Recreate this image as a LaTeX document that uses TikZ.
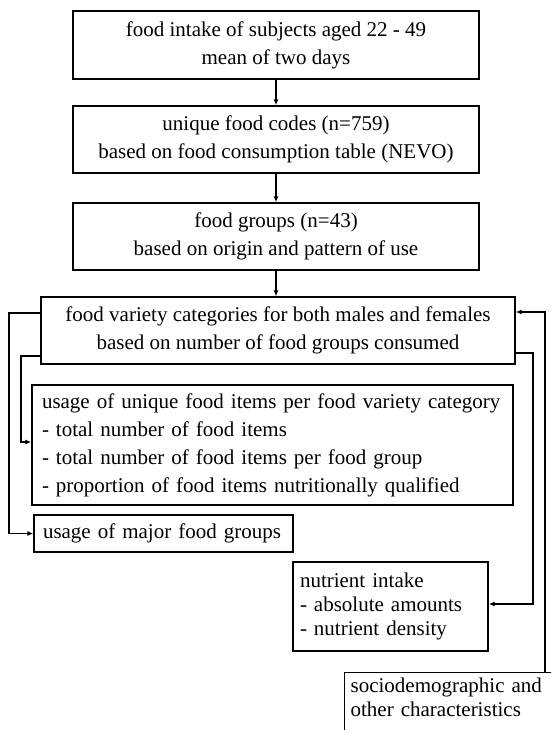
\documentclass[tikz,border=0pt]{standalone}
\usepackage{fontspec}
\setmainfont{Liberation Serif}
\usetikzlibrary{arrows.meta}
\begin{document}
\begin{tikzpicture}[x=1pt,y=-1pt,
  line width=1.3pt,
  box/.style={draw, line width=1.3pt, align=center, inner sep=0pt,
    font=\fontsize{21}{28}\selectfont},
  listbox/.style={draw, line width=1.3pt, align=left, inner ysep=0pt,
    font=\fontsize{21}{28}\selectfont},
  tightlist/.style={listbox, font=\fontsize{21}{24}\selectfont},
  arr/.style={-{Latex[length=6pt,width=5pt]}, line width=1.2pt}]
\useasboundingbox (0,0) rectangle (551,730);
\clip (0,0) rectangle (551,730);

% main chain
\node[box, minimum width=406pt, minimum height=68pt] (b1) at (276,45)
  {food intake of subjects aged 22 - 49\\mean of two days};
\node[box, minimum width=406pt, minimum height=67pt] (b2) at (276,139.5)
  {unique food codes (n=759)\\based on food consumption table (NEVO)};
\node[box, minimum width=406pt, minimum height=67pt] (b3) at (276,236.5)
  {food groups (n=43)\\based on origin and pattern of use};
\node[box, minimum width=474pt, minimum height=67pt] (b4) at (278,330.5)
  {food variety categories for both males and females\\based on number of food groups consumed};

% outcome boxes
\node[listbox, text width=461pt, inner xsep=10pt, minimum height=120pt] (b5) at (272.5,445)
  {usage of unique food items per food variety category\\
   - total number of food items\\
   - total number of food items per food group\\
   - proportion of food items nutritionally qualified};
\node[listbox, text width=241pt, inner xsep=9pt, minimum height=37pt] (b6) at (163.5,533.5)
  {usage of major food groups};
\node[tightlist, text width=181pt, inner xsep=7pt, minimum height=89pt] (b7) at (390.5,606.5)
  {nutrient intake\\- absolute amounts\\- nutrient density};
\node[tightlist, anchor=north west, text width=230pt, inner xsep=6pt, inner ysep=5pt,
  text depth=40pt] (b8) at (344,672)
  {sociodemographic and\\other characteristics};

% bends of the side connectors
\coordinate (r1) at (545,312);
\coordinate (r2) at (533,353);
\coordinate (l1) at (9,313);
\coordinate (l2) at (21,356);

% connectors
\draw[arr] (b1) -- (b2);
\draw[arr] (b2) -- (b3);
\draw[arr] (b3.south) -- (b3.south |- b4.north);
\draw[arr] (b8.north -| r1) -- (r1) -- (r1 -| b4.east);
\draw[arr] (r2 -| b4.east) -- (r2) |- ([yshift=2.5pt]b7.east);
\draw[arr] (l1 -| b4.west) -- (l1) |- (b6.west);
\draw[arr] (l2 -| b4.west) -- (l2) |- ([yshift=3pt]b5.west);
\end{tikzpicture}
\end{document}
